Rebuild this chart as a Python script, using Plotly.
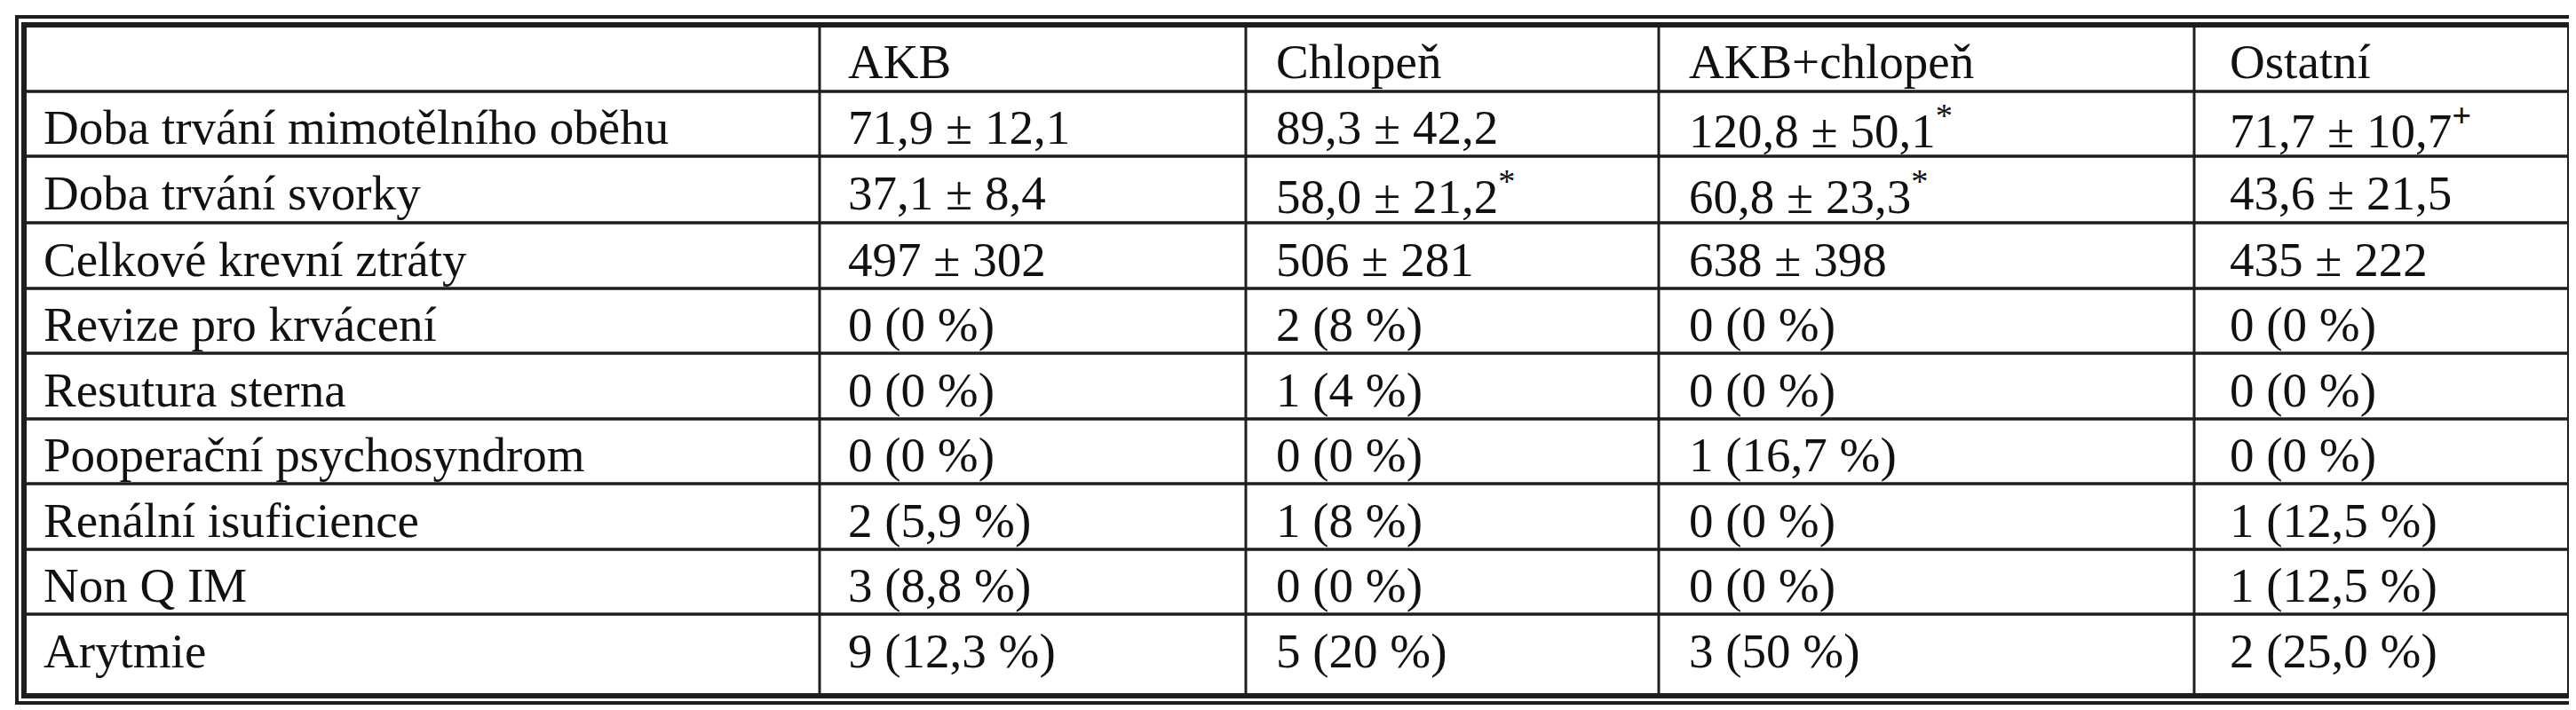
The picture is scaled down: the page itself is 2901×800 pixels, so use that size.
import plotly.graph_objects as go

columns = ["", "AKB", "Chlopeň", "AKB+chlopeň", "Ostatní"]
row_labels = ["Doba trvání mimotělního oběhu", "Doba trvání svorky", "Celkové krevní ztráty",
              "Revize pro krvácení", "Resutura sterna", "Pooperační psychosyndrom",
              "Renální isuficience", "Non Q IM", "Arytmie"]
akb = ["71,9 ± 12,1", "37,1 ± 8,4", "497 ± 302", "0 (0 %)", "0 (0 %)", "0 (0 %)", "2 (5,9 %)", "3 (8,8 %)", "9 (12,3 %)"]
chlopen = ["89,3 ± 42,2", "58,0 ± 21,2<sup>*</sup>", "506 ± 281", "2 (8 %)", "1 (4 %)", "0 (0 %)", "1 (8 %)", "0 (0 %)", "5 (20 %)"]
akb_chlopen = ["120,8 ± 50,1<sup>*</sup>", "60,8 ± 23,3<sup>*</sup>", "638 ± 398", "0 (0 %)", "0 (0 %)", "1 (16,7 %)", "0 (0 %)", "0 (0 %)", "3 (50 %)"]
ostatni = ["71,7 ± 10,7<sup><b>+</b></sup>", "43,6 ± 21,5", "435 ± 222", "0 (0 %)", "0 (0 %)", "0 (0 %)", "1 (12,5 %)", "1 (12,5 %)", "2 (25,0 %)"]

W, H = 2901, 800
col_x = [19, 915, 1395, 1860, 2463, 2886]
row_y = [20, 95, 168, 243, 317, 390, 464, 537, 611, 684, 776]
pads = [20, 30, 32, 32, 38]
line = "#1e1e1e"

fig = go.Figure()
shapes = []
shapes.append(dict(type="rect", xref="x", yref="y", x0=11, x1=2896, y0=11, y1=784, line=dict(color=line, width=4)))
shapes.append(dict(type="rect", xref="x", yref="y", x0=col_x[0], x1=col_x[-1], y0=row_y[0], y1=row_y[-1], line=dict(color=line, width=6)))
for x in col_x[1:-1]:
    shapes.append(dict(type="line", x0=x, x1=x, y0=row_y[0], y1=row_y[-1], line=dict(color=line, width=3)))
for y in row_y[1:-1]:
    shapes.append(dict(type="line", x0=col_x[0], x1=col_x[-1], y0=y, y1=y, line=dict(color=line, width=3.5)))

cols = [row_labels, akb, chlopen, akb_chlopen, ostatni]
ann = []
font = dict(family="Liberation Serif", size=55, color="#111")
for j, name in enumerate(columns):
    if name:
        ann.append(dict(x=col_x[j] + pads[j], y=(row_y[0] + row_y[1]) / 2 + 4, text=name, xanchor="left", yanchor="middle", showarrow=False, font=font))
for j, colvals in enumerate(cols):
    for i, v in enumerate(colvals):
        yc = (row_y[i + 1] + row_y[i + 2]) / 2 + 4
        if i == len(colvals) - 1:
            yc = row_y[i + 1] + 41
        ann.append(dict(x=col_x[j] + pads[j], y=yc, text=v, xanchor="left", yanchor="middle", showarrow=False, font=font))

fig.update_layout(width=W, height=H, margin=dict(l=0, r=0, t=0, b=0),
                  paper_bgcolor="white", plot_bgcolor="white",
                  xaxis=dict(range=[0, W], visible=False, fixedrange=True),
                  yaxis=dict(range=[H, 0], visible=False, fixedrange=True),
                  shapes=shapes, annotations=ann, showlegend=False)
fig.write_html("out.html")
